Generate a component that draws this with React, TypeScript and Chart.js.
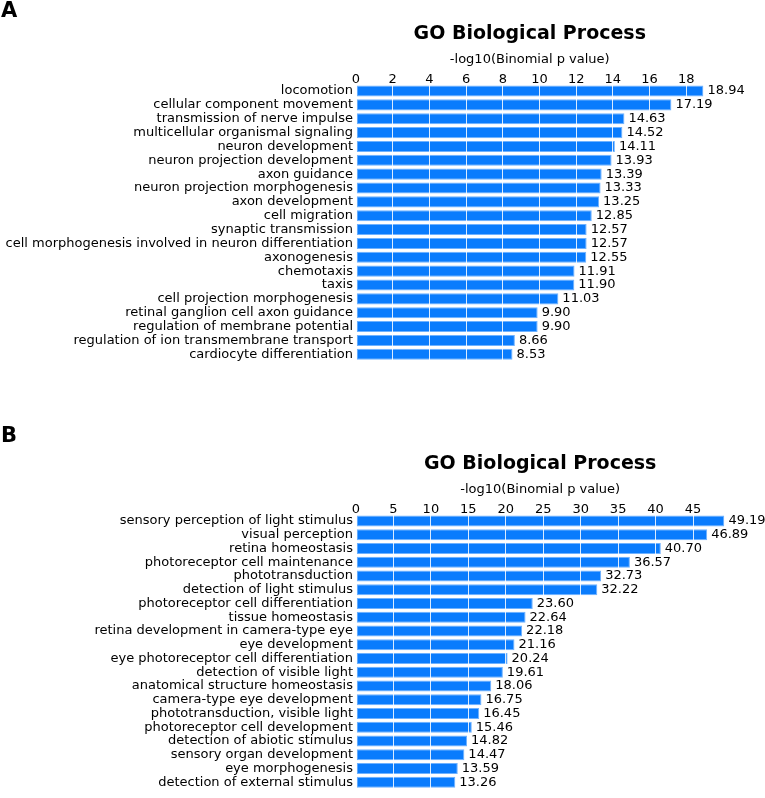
import React, { useEffect, useRef } from "react";
import { Chart, registerables } from "chart.js";
Chart.register(...registerables);

const titleText = "GO Biological Process";
const axisTitleText = "-log10(Binomial p value)";

const catsA = [
  "locomotion",
  "cellular component movement",
  "transmission of nerve impulse",
  "multicellular organismal signaling",
  "neuron development",
  "neuron projection development",
  "axon guidance",
  "neuron projection morphogenesis",
  "axon development",
  "cell migration",
  "synaptic transmission",
  "cell morphogenesis involved in neuron differentiation",
  "axonogenesis",
  "chemotaxis",
  "taxis",
  "cell projection morphogenesis",
  "retinal ganglion cell axon guidance",
  "regulation of membrane potential",
  "regulation of ion transmembrane transport",
  "cardiocyte differentiation",
];
const valsA = [
  18.94, 17.19, 14.63, 14.52, 14.11, 13.93, 13.39, 13.33, 13.25, 12.85, 12.57,
  12.57, 12.55, 11.91, 11.9, 11.03, 9.9, 9.9, 8.66, 8.53,
];
const stepA = 2;

const catsB = [
  "sensory perception of light stimulus",
  "visual perception",
  "retina homeostasis",
  "photoreceptor cell maintenance",
  "phototransduction",
  "detection of light stimulus",
  "photoreceptor cell differentiation",
  "tissue homeostasis",
  "retina development in camera-type eye",
  "eye development",
  "eye photoreceptor cell differentiation",
  "detection of visible light",
  "anatomical structure homeostasis",
  "camera-type eye development",
  "phototransduction, visible light",
  "photoreceptor cell development",
  "detection of abiotic stimulus",
  "sensory organ development",
  "eye morphogenesis",
  "detection of external stimulus",
];
const valsB = [
  49.19, 46.89, 40.7, 36.57, 32.73, 32.22, 23.6, 22.64, 22.18, 21.16, 20.24,
  19.61, 18.06, 16.75, 16.45, 15.46, 14.82, 14.47, 13.59, 13.26,
];
const stepB = 5;

const FONT = "'DejaVu Sans', sans-serif";
const TXT = 13;
const CHART_TOP = 84.1;
const CHART_LEFT = 356;
const TITLE_BASE = 38.5;
const AXIS_TITLE_BASE = 63;

type PanelProps = {
  cats: string[];
  vals: number[];
  step: number;
  chartRight: number;
  chartHeight: number;
  canvasHeight: number;
  top: number;
};

function Panel({ cats, vals, step, chartRight, chartHeight, canvasHeight, top }: PanelProps) {
  const ref = useRef<HTMLCanvasElement | null>(null);
  useEffect(() => {
    if (!ref.current) return;
    const annot = {
      id: "annot",
      afterDraw(chart: any) {
        const ctx = chart.ctx;
        const area = chart.chartArea;
        const cx = (area.left + area.right) / 2;
        ctx.save();
        ctx.fillStyle = "#000";
        ctx.textAlign = "center";
        ctx.textBaseline = "alphabetic";
        ctx.font = `bold 19px ${FONT}`;
        ctx.fillText(titleText, cx, TITLE_BASE);
        ctx.font = `${TXT}px ${FONT}`;
        ctx.fillText(axisTitleText, cx, AXIS_TITLE_BASE);
        const meta = chart.getDatasetMeta(0);
        const data = chart.data.datasets[0].data as number[];
        ctx.textAlign = "left";
        ctx.textBaseline = "middle";
        meta.data.forEach((bar: any, i: number) => {
          ctx.fillText(data[i].toFixed(2), bar.x + 4, bar.y);
        });
        ctx.restore();
      },
    };
    const chart = new Chart(ref.current, {
      type: "bar",
      data: {
        labels: cats,
        datasets: [
          {
            data: vals,
            backgroundColor: "#0a7cfd",
            borderColor: "#6fb2ff",
            borderWidth: 1,
            borderSkipped: false,
            barPercentage: 0.8,
            categoryPercentage: 1,
          },
        ],
      },
      options: {
        indexAxis: "y",
        responsive: false,
        animation: false,
        devicePixelRatio: 1,
        layout: {
          padding: {
            top: 0,
            left: 0,
            right: 765 - chartRight,
            bottom: canvasHeight - CHART_TOP - chartHeight,
          },
        },
        plugins: { legend: { display: false }, tooltip: { enabled: false }, title: { display: false } },
        scales: {
          x: {
            type: "linear",
            position: "top",
            min: 0,
            max: Math.max(...vals),
            border: { display: false },
            grid: { color: "rgba(255,255,255,0.85)", lineWidth: 1, drawTicks: false, tickLength: 0, z: 1 },
            ticks: {
              stepSize: step,
              includeBounds: false,
              font: { family: FONT, size: TXT },
              color: "#000",
              padding: -3,
              maxRotation: 0,
            },
            afterFit: (scale: any) => {
              scale.height = CHART_TOP;
            },
          },
          y: {
            type: "category",
            border: { display: false },
            grid: { display: false, drawTicks: false, tickLength: 0 },
            ticks: {
              font: { family: FONT, size: TXT },
              color: "#000",
              padding: 3,
              autoSkip: false,
            },
            afterFit: (scale: any) => {
              scale.width = CHART_LEFT;
            },
          },
        },
      },
      plugins: [annot],
    } as any);
    return () => chart.destroy();
  }, []);
  return (
    <canvas
      ref={ref}
      width={765}
      height={canvasHeight}
      style={{ position: "absolute", left: 0, top, width: 765, height: canvasHeight, display: "block" }}
    />
  );
}

export default function App() {
  useEffect(() => {
    document.body.style.margin = "0";
    document.body.style.overflow = "hidden";
  }, []);
  const letterStyle: React.CSSProperties = {
    position: "absolute",
    left: 1,
    fontFamily: FONT,
    fontWeight: "bold",
    fontSize: 21,
    lineHeight: "21px",
    color: "#000",
  };
  return (
    <div style={{ position: "relative", width: 765, height: 798, overflow: "hidden", background: "#fff" }}>
      <Panel cats={catsA} vals={valsA} step={stepA} chartRight={703.5} chartHeight={282.8} canvasHeight={372} top={0} />
      <Panel cats={catsB} vals={valsB} step={stepB} chartRight={724.4} chartHeight={285.2} canvasHeight={370} top={430} />
      <div style={{ ...letterStyle, top: 0 }}>A</div>
      <div style={{ ...letterStyle, top: 424.5 }}>B</div>
    </div>
  );
}
